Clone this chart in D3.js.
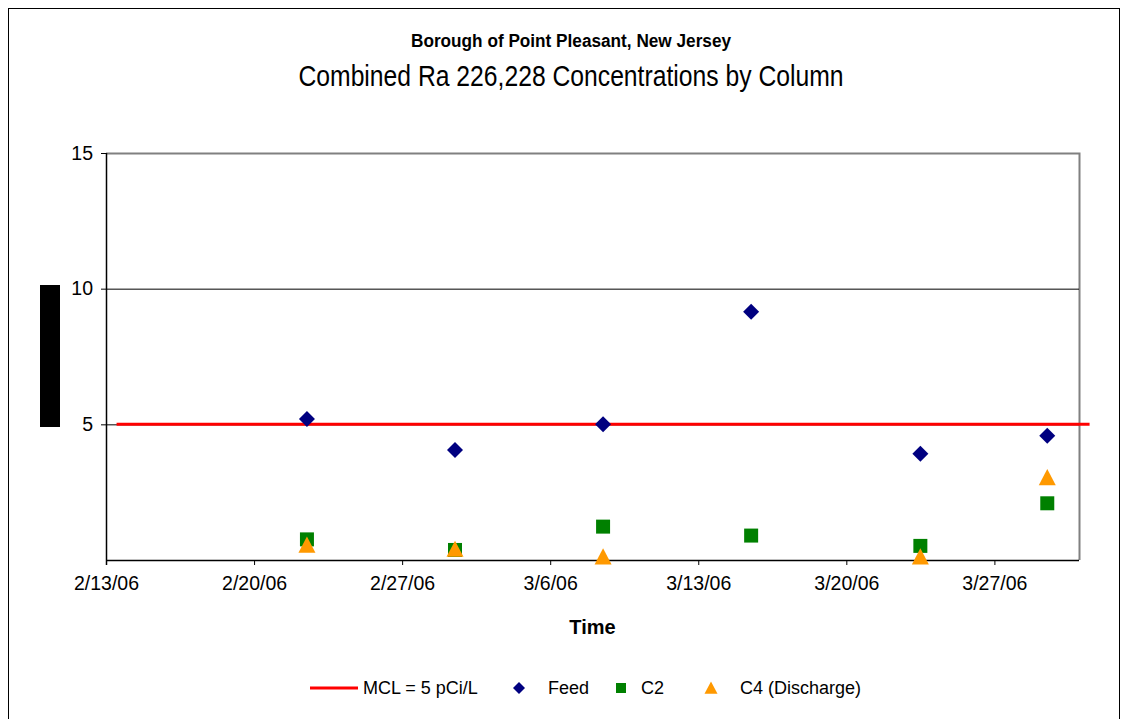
<!DOCTYPE html>
<html><head><meta charset="utf-8">
<script src="https://cdn.jsdelivr.net/npm/d3@7"></script>
<style>body{margin:0;background:#fff}svg{display:block}</style>
</head><body>
<svg id="c" width="1128" height="719"></svg>
<script>
// ---- data ----
const sampleDates = ["2006-02-22","2006-03-01","2006-03-08","2006-03-15","2006-03-23","2006-03-29"];
const feedValues  = [5.2, 4.05, 5.0, 9.15, 3.92, 4.58];
const c2Values    = [0.76, 0.37, 1.23, 0.9, 0.52, 2.09];
const c4Dates     = ["2006-02-22","2006-03-01","2006-03-08","2006-03-23","2006-03-29"];
const c4Values    = [0.55, 0.4, 0.12, 0.12, 3.04];
const mclDates    = ["2006-02-13","2006-03-31"];
const mclValues   = [5, 5];
const xTickLabels = ["2/13/06","2/20/06","2/27/06","3/6/06","3/13/06","3/20/06","3/27/06"];
const yTickValues = [5, 10, 15];
const yGridValues = [5, 10];
const legendLabels = ["MCL = 5 pCi/L","Feed","C2","C4 (Discharge)"];

const parse = d3.timeParse("%Y-%m-%d");
const mid = d => d3.timeHour.offset(parse(d), 12);

const svg = d3.select("#c");
const L = 106, R = 1079, T = 153, B = 560;

const x = d3.scaleTime().domain([parse("2006-02-13"), parse("2006-03-31")]).range([L, R]);
const y = d3.scaleLinear().domain([0, 15]).range([B, T]);

// outer frame
svg.append("rect").attr("x",8.5).attr("y",8.5).attr("width",1111).attr("height",730)
  .attr("fill","none").attr("stroke","#000").attr("stroke-width",1);

// titles
svg.append("text").attr("x",571).attr("y",47).attr("text-anchor","middle")
  .attr("font-family","'Liberation Sans',Arial,sans-serif")
  .attr("font-weight","bold").attr("font-size",18)
  .attr("textLength",320).attr("lengthAdjust","spacingAndGlyphs")
  .text("Borough of Point Pleasant, New Jersey");
svg.append("text").attr("x",571).attr("y",86).attr("text-anchor","middle")
  .attr("font-family","'Liberation Sans',Arial,sans-serif")
  .attr("font-size",30)
  .attr("textLength",545).attr("lengthAdjust","spacingAndGlyphs")
  .text("Combined Ra 226,228 Concentrations by Column");

// plot border (grey top/right)
svg.append("path").attr("d",`M${L},${T+0.5}H${R+0.5}V${B}`).attr("fill","none")
  .attr("stroke","#808080").attr("stroke-width",2);

// gridlines
svg.append("g").selectAll("line").data(yGridValues).join("line")
  .attr("x1",L).attr("x2",R).attr("y1",d=>y(d)+0.5).attr("y2",d=>y(d)+0.5)
  .attr("stroke","#000").attr("stroke-width",1);

// axes
const tickDates = xTickLabels.map(s => d3.timeParse("%m/%d/%y")(s));
const xAxis = d3.axisBottom(x).tickValues(tickDates).tickFormat((d,i)=>xTickLabels[i]).tickSize(5).tickPadding(11);
const gx = svg.append("g").attr("transform",`translate(0,${B})`).call(xAxis);
gx.select(".domain").attr("stroke","#000").attr("stroke-width",1.5).attr("d",`M${L},0.5H${R}`);
gx.selectAll("text").attr("font-family","'Liberation Sans',Arial,sans-serif").attr("font-size",19.5).attr("fill","#000");

const yAxis = d3.axisLeft(y).tickValues(yTickValues).tickSize(5).tickPadding(8);
const gy = svg.append("g").attr("transform",`translate(${L},0)`).call(yAxis);
gy.select(".domain").attr("stroke","#000").attr("stroke-width",1.5).attr("d",`M0.5,${T}V${B+5}`);
gy.selectAll("text").attr("font-family","'Liberation Sans',Arial,sans-serif").attr("font-size",19.5).attr("fill","#000");

// y label (rendered as black block in reference)
svg.append("rect").attr("x",40).attr("y",285).attr("width",20).attr("height",142).attr("fill","#000");

// x label
svg.append("text").attr("x",(L+R)/2).attr("y",634).attr("text-anchor","middle")
  .attr("font-family","'Liberation Sans',Arial,sans-serif").attr("font-weight","bold").attr("font-size",20).text("Time");

// MCL line
const mcl = mclDates.map((d,i)=>({x:mid(d), y:mclValues[i]}));
svg.append("path").datum(mcl).attr("fill","none").attr("stroke","#ff0000").attr("stroke-width",3)
  .attr("d", d3.line().x(d=>x(d.x)).y(d=>y(d.y)));

const diamond = s => `M0,${-s}L${s},0L0,${s}L${-s},0Z`;
const square = s => `M${-s},${-s}H${s}V${s}H${-s}Z`;
const tri = s => `M0,${-s}L${s},${s*0.9}L${-s},${s*0.9}Z`;

// C2
svg.append("g").selectAll("path").data(sampleDates.map((d,i)=>({x:mid(d),y:c2Values[i]}))).join("path")
  .attr("transform",d=>`translate(${x(d.x)},${y(d.y)})`).attr("d",square(7)).attr("fill","#008000");
// C4
svg.append("g").selectAll("path").data(c4Dates.map((d,i)=>({x:mid(d),y:c4Values[i]}))).join("path")
  .attr("transform",d=>`translate(${x(d.x)},${y(d.y)})`).attr("d",tri(8.5)).attr("fill","#ff9900");
// Feed
svg.append("g").selectAll("path").data(sampleDates.map((d,i)=>({x:mid(d),y:feedValues[i]}))).join("path")
  .attr("transform",d=>`translate(${x(d.x)},${y(d.y)})`).attr("d",diamond(8)).attr("fill","#000080");

// legend
const ly = 688;
const lg = svg.append("g").attr("font-family","'Liberation Sans',Arial,sans-serif").attr("font-size",18);
lg.append("line").attr("x1",310).attr("x2",358).attr("y1",ly).attr("y2",ly).attr("stroke","#ff0000").attr("stroke-width",3);
lg.append("text").attr("x",363).attr("y",ly+6).text(legendLabels[0]);
lg.append("path").attr("transform",`translate(519,${ly})`).attr("d",diamond(6)).attr("fill","#000080");
lg.append("text").attr("x",548).attr("y",ly+6).text(legendLabels[1]);
lg.append("path").attr("transform",`translate(621,${ly})`).attr("d",square(5)).attr("fill","#008000");
lg.append("text").attr("x",641).attr("y",ly+6).text(legendLabels[2]);
lg.append("path").attr("transform",`translate(711,${ly})`).attr("d",tri(6.5)).attr("fill","#ff9900");
lg.append("text").attr("x",740).attr("y",ly+6).text(legendLabels[3]);
</script>
</body></html>
